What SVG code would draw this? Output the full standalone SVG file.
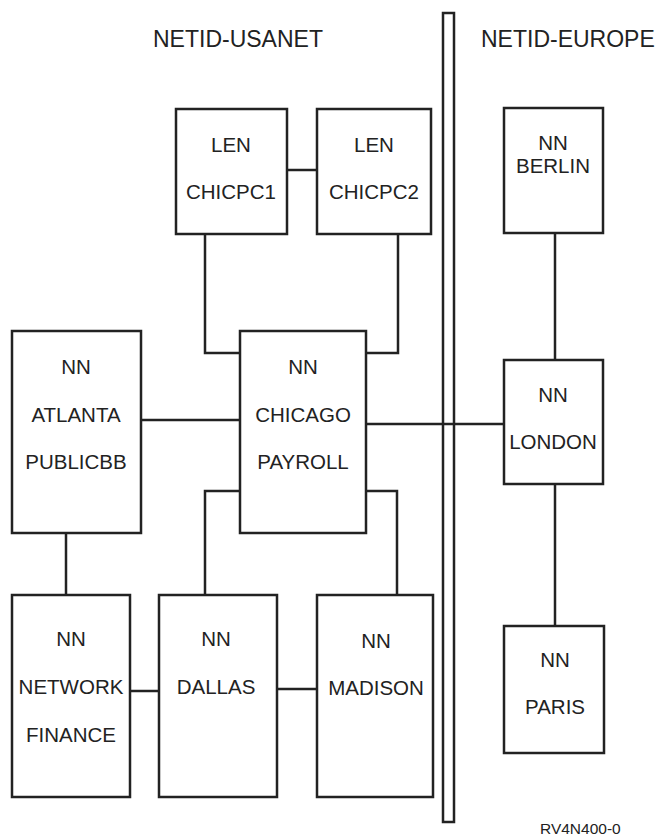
<svg xmlns="http://www.w3.org/2000/svg" width="663" height="837" viewBox="0 0 663 837">
<style>
.box{fill:#fff;stroke:#222;stroke-width:2.5}
.ln{fill:none;stroke:#222;stroke-width:2.5}
text{font-family:"Liberation Sans",Arial,sans-serif;font-size:20.5px;fill:#222;text-anchor:middle}
.title{font-size:23px;text-anchor:start}
.small{font-size:15.5px;text-anchor:start}
</style>
<rect width="663" height="837" fill="#fff"/>
<g id="pole"><rect x="443" y="13" width="11" height="809" class="box" stroke-width="2.2"/></g>
<g id="connectors">
<path class="ln" d="M287 170H317"/>
<path class="ln" d="M205 234V353H240"/>
<path class="ln" d="M398 234V353H366"/>
<path class="ln" d="M141 420H240"/>
<path class="ln" d="M366 424H504"/>
<path class="ln" d="M240 491H205V595"/>
<path class="ln" d="M366 491H397V595"/>
<path class="ln" d="M66 533V595"/>
<path class="ln" d="M130 691H159"/>
<path class="ln" d="M277 689H317"/>
<path class="ln" d="M555 233V360"/>
<path class="ln" d="M555 484V626"/>
</g>
<text class="title" x="153" y="47">NETID-USANET</text>
<text class="title" x="481" y="47">NETID-EUROPE</text>
<g id="chicpc1"><rect class="box" x="176" y="109" width="111" height="125"/><text x="231" y="152">LEN</text><text x="231" y="199">CHICPC1</text></g>
<g id="chicpc2"><rect class="box" x="317" y="109" width="114" height="125"/><text x="374" y="152">LEN</text><text x="374" y="199">CHICPC2</text></g>
<g id="berlin"><rect class="box" x="504" y="108" width="99" height="125"/><text x="553" y="150">NN</text><text x="553" y="173">BERLIN</text></g>
<g id="atlanta"><rect class="box" x="12" y="331" width="129" height="202"/><text x="76" y="374">NN</text><text x="76" y="422">ATLANTA</text><text x="76" y="469">PUBLICBB</text></g>
<g id="chicago"><rect class="box" x="240" y="331" width="126" height="202"/><text x="303" y="374">NN</text><text x="303" y="422">CHICAGO</text><text x="303" y="469">PAYROLL</text></g>
<g id="london"><rect class="box" x="504" y="360" width="99" height="124"/><text x="553" y="402">NN</text><text x="553" y="449">LONDON</text></g>
<g id="network"><rect class="box" x="12" y="595" width="118" height="202"/><text x="71" y="646">NN</text><text x="71" y="694">NETWORK</text><text x="71" y="742">FINANCE</text></g>
<g id="dallas"><rect class="box" x="159" y="595" width="118" height="202"/><text x="216" y="646">NN</text><text x="216" y="694">DALLAS</text></g>
<g id="madison"><rect class="box" x="317" y="595" width="116" height="202"/><text x="376" y="648">NN</text><text x="376" y="695">MADISON</text></g>
<g id="paris"><rect class="box" x="504" y="626" width="100" height="127"/><text x="555" y="667">NN</text><text x="555" y="714">PARIS</text></g>
<text class="small" x="540" y="834">RV4N400-0</text>
</svg>
